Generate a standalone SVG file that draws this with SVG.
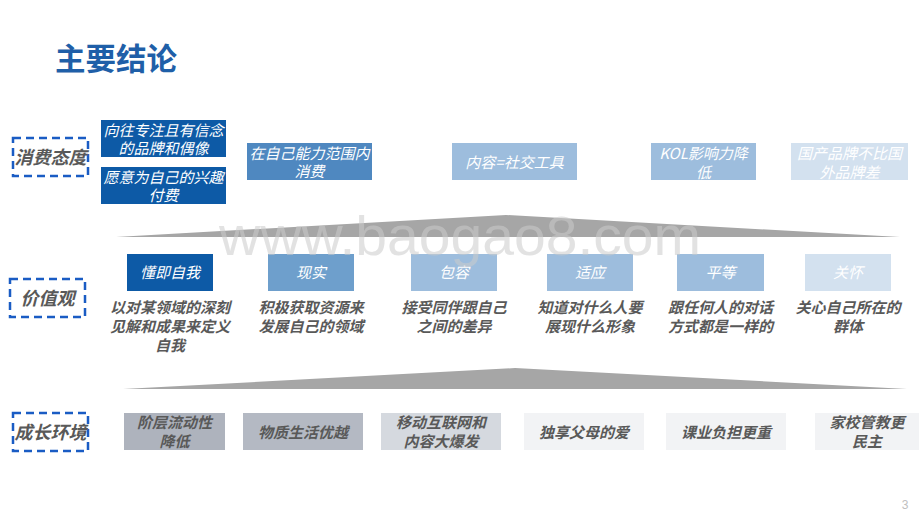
<svg xmlns="http://www.w3.org/2000/svg" width="920" height="518" viewBox="0 0 920 518">
<style>
text{font-family:"Noto Sans CJK SC","Liberation Sans",sans-serif;text-anchor:middle}
.title{font-size:30.5px;font-weight:bold;fill:#1f5fa8;text-anchor:start}
.lab{font-size:18px;font-weight:bold;font-style:italic;fill:#595959}
.dash{fill:none;stroke:#1a5cc4;stroke-width:2.5;stroke-dasharray:8 5}
.bt{font-size:15px;fill:#ffffff;font-style:italic}
.desc{font-size:15px;font-weight:bold;font-style:italic;fill:#595959}
.et{font-size:15px;font-weight:bold;font-style:italic;fill:#595959}
.c1{fill:#0d5aa6}.c2{fill:#4f88c0}.c3{fill:#9dbddd}.c4{fill:#d3e1ef}.c2b{fill:#6e9fcc}
.e1{fill:#aeb3bd}.e2{fill:#b4b9c3}.e3{fill:#d5d9df}.e4{fill:#f2f3f5}
.wedge{fill:#a6a6a6}
</style>
<rect width="920" height="518" fill="#ffffff"/>
<text class="title" x="55" y="70">主要结论</text>

<g id="label-consume"><rect class="dash" x="13" y="138" width="75" height="38"/><text class="lab" x="50.5" y="163.5">消费态度</text></g>
<g id="label-value"><rect class="dash" x="10" y="279" width="75" height="38"/><text class="lab" x="47.5" y="304.5">价值观</text></g>
<g id="label-env"><rect class="dash" x="13" y="413" width="75" height="38"/><text class="lab" x="50.5" y="438.5">成长环境</text></g>

<g id="dividers">
<polygon class="wedge" points="116,237 506,215 900,237"/>
<polygon class="wedge" points="123,389 515,368 907,389"/>
</g>

<g id="c-a1"><rect class="c1" x="101" y="120" width="125" height="37"/><text class="bt" x="163.5" y="136">向往专注且有信念</text><text class="bt" x="163.5" y="153.5">的品牌和偶像</text></g>
<g id="c-a2"><rect class="c1" x="101" y="167" width="125" height="37"/><text class="bt" x="163.5" y="182.5">愿意为自己的兴趣</text><text class="bt" x="163.5" y="200.5">付费</text></g>
<g id="c-b"><rect class="c2" x="247" y="143" width="125" height="37"/><text class="bt" x="309.5" y="158.5">在自己能力范围内</text><text class="bt" x="309.5" y="176.5">消费</text></g>
<g id="c-c"><rect class="c3" x="452" y="143" width="125" height="37"/><text class="bt" x="514.5" y="167.5">内容=社交工具</text></g>
<g id="c-d"><rect class="c3" x="651" y="143" width="105" height="37"/><text class="bt" x="703.5" y="158.5">KOL影响力降</text><text class="bt" x="703.5" y="177.5">低</text></g>
<g id="c-e"><rect class="c4" x="791" y="143" width="117" height="37"/><text class="bt" x="849.5" y="158.5">国产品牌不比国</text><text class="bt" x="849.5" y="177.5">外品牌差</text></g>

<g id="v-1"><rect class="c1" x="127" y="254" width="86" height="37"/><text class="bt" x="170" y="278">懂即自我</text>
<text class="desc" x="170" y="313">以对某领域的深刻</text><text class="desc" x="170" y="332">见解和成果来定义</text><text class="desc" x="170" y="351">自我</text></g>
<g id="v-2"><rect class="c2b" x="268" y="254" width="86" height="37"/><text class="bt" x="311" y="278">现实</text>
<text class="desc" x="311" y="313">积极获取资源来</text><text class="desc" x="311" y="332">发展自己的领域</text></g>
<g id="v-3"><rect class="c3" x="411" y="254" width="86" height="37"/><text class="bt" x="454" y="278">包容</text>
<text class="desc" x="454" y="313">接受同伴跟自己</text><text class="desc" x="454" y="332">之间的差异</text></g>
<g id="v-4"><rect class="c3" x="547" y="254" width="86" height="37"/><text class="bt" x="590" y="278">适应</text>
<text class="desc" x="590" y="313">知道对什么人要</text><text class="desc" x="590" y="332">展现什么形象</text></g>
<g id="v-5"><rect class="c3" x="677" y="254" width="87" height="37"/><text class="bt" x="720.5" y="278">平等</text>
<text class="desc" x="720.5" y="313">跟任何人的对话</text><text class="desc" x="720.5" y="332">方式都是一样的</text></g>
<g id="v-6"><rect class="c4" x="805" y="254" width="86" height="37"/><text class="bt" x="848" y="278">关怀</text>
<text class="desc" x="848" y="313">关心自己所在的</text><text class="desc" x="848" y="332">群体</text></g>

<g id="e-1"><rect class="e1" x="124" y="413" width="101" height="37"/><text class="et" x="174.5" y="427.5">阶层流动性</text><text class="et" x="174.5" y="446.5">降低</text></g>
<g id="e-2"><rect class="e2" x="243" y="413" width="120" height="37"/><text class="et" x="303" y="437.5">物质生活优越</text></g>
<g id="e-3"><rect class="e3" x="381" y="413" width="120" height="37"/><text class="et" x="441" y="427.5">移动互联网和</text><text class="et" x="441" y="446.5">内容大爆发</text></g>
<g id="e-4"><rect class="e4" x="524" y="413" width="120" height="37"/><text class="et" x="584" y="437.5">独享父母的爱</text></g>
<g id="e-5"><rect class="e4" x="666" y="413" width="120" height="37"/><text class="et" x="726" y="437.5">课业负担更重</text></g>
<g id="e-6"><rect class="e4" x="815" y="413" width="104" height="37"/><text class="et" x="867" y="427.5">家校管教更</text><text class="et" x="867" y="446.5">民主</text></g>

<text x="460" y="255" style="font-family:'Liberation Sans',Arial,sans-serif;font-size:56px;fill:#cccccc;opacity:0.55" textLength="482" lengthAdjust="spacingAndGlyphs">www.baogao8.com</text>
<text x="905" y="509" style="font-family:'Liberation Sans',sans-serif;font-size:12px;fill:#bfbfbf">3</text>
</svg>
